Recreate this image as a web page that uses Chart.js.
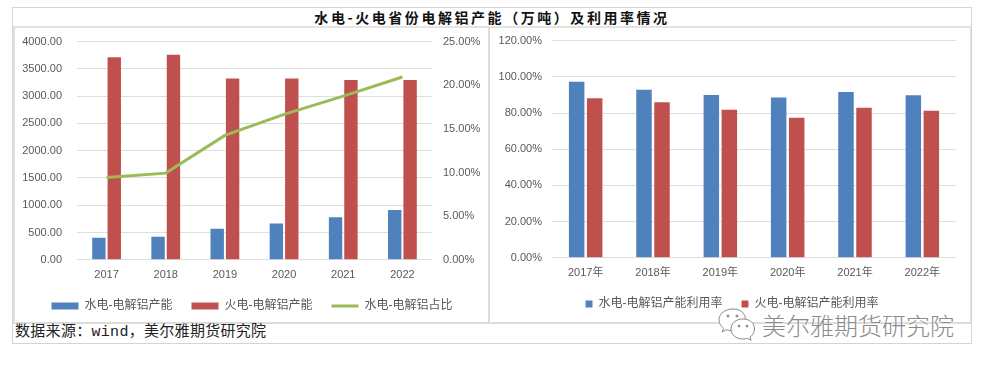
<!DOCTYPE html>
<html>
<head>
<meta charset="utf-8">
<script src="https://cdn.jsdelivr.net/npm/chart.js@4"></script>
<style>
    html, body { margin: 0; padding: 0; background: #fff; }
    body { position: relative; width: 985px; height: 368px; overflow: hidden; font-family: "Noto Sans CJK SC", sans-serif; }
    .line { position: absolute; background: #d4d4d4; }
    .abs { position: absolute; }
    #title { left: 13px; width: 958px; top: 8px; height: 18px; line-height: 18px; text-align: center; font-weight: bold; font-size: 14px; letter-spacing: 2.55px; color: #111; }
    #source { left: 15px; top: 323px; height: 20px; line-height: 20px; font-size: 15px; letter-spacing: 0.3px; color: #222; font-family: "Liberation Mono", "Noto Sans CJK SC", monospace; white-space: nowrap; }
    #mark { left: 762px; top: 310px; height: 30px; line-height: 30px; font-size: 24px; color: #8a8a8a; white-space: nowrap; text-shadow: 0 0 2px #fff; font-weight: 300; }
</style>
</head>
<body>
<!-- frame -->
<div class="line" style="left:12px;top:7px;width:960px;height:1px"></div>
<div class="line" style="left:12px;top:343px;width:960px;height:1px"></div>
<div class="line" style="left:12px;top:7px;width:1px;height:337px"></div>
<div class="line" style="left:971px;top:7px;width:1px;height:337px"></div>
<div class="line" style="left:13px;top:26px;width:958px;height:2px;background:#e4e4e4"></div>
<div class="line" style="left:13px;top:322px;width:958px;height:2px;background:#dcdcdc"></div>
<div class="line" style="left:13px;top:27px;width:2px;height:296px;background:#e0e0e0"></div>
<div class="line" style="left:488px;top:27px;width:2px;height:296px;background:#dcdcdc"></div>
<div class="line" style="left:970px;top:27px;width:1px;height:296px;background:#e0e0e0"></div>

<div id="title" class="abs">水电-火电省份电解铝产能（万吨）及利用率情况</div>
<div id="source" class="abs">数据来源：wind，美尔雅期货研究院</div>

<svg class="abs" style="left:716px;top:307px" width="44" height="34" viewBox="0 0 44 34" fill="#fff" stroke="#8a8a8a" stroke-width="1">
    <path d="M17 2c-8 0-14 4.600-14 11 0 3.500 2 6.300 4.500 8.300l-1.500 3.700 4.500-2.300c2 .7 4 1 6 1 9 0 13-5 13-10.700C29.500 6.600 25 2 17 2z"/>
    <path d="M27 12c-7 0-12 4.300-12 10s5 10 12 10c1.500 0 3-.3 4.300-.7l3.700 2-1-3.200c2.600-1.800 4.500-4.800 4.500-8.100 0-5.700-4.500-10-11.500-10z"/>
    <circle cx="12" cy="9" r="1" fill="#8a8a8a"/><circle cx="21" cy="9" r="1" fill="#8a8a8a"/>
    <circle cx="23" cy="19" r="1" fill="#8a8a8a"/><circle cx="31" cy="19" r="1" fill="#8a8a8a"/>
</svg>
<div id="mark" class="abs">美尔雅期货研究院</div>

<canvas id="capacity-chart" class="abs" style="left:14px;top:20px"></canvas>
<canvas id="usage-chart" class="abs" style="left:490px;top:24px"></canvas>

<script>
const capacityYears = ['2017', '2018', '2019', '2020', '2021', '2022'];
const hydroCapacity = [403, 421, 567, 665, 781, 915];
const thermalCapacity = [3712, 3757, 3322, 3322, 3298, 3298];
const hydroShare = [9.44, 9.93, 14.25, 16.66, 18.76, 20.94];

const usageYears = ['2017年', '2018年', '2019年', '2020年', '2021年', '2022年'];
const hydroUsage = [97.3, 92.9, 89.9, 88.6, 91.6, 89.8];
const thermalUsage = [88.1, 85.9, 81.8, 77.4, 82.9, 81.3];

const BLUE = '#4F81BD';
const RED = '#C0504D';
const GREEN = '#9BBB59';
const TEXT = '#595959';
const GRID = '#dedede';

Chart.defaults.font.family = '"Liberation Sans", "Noto Sans CJK SC", sans-serif';
Chart.defaults.font.size = 11;
Chart.defaults.color = TEXT;
Chart.defaults.animation = false;
Chart.defaults.responsive = false;

function setSize(id, w, h) {
    const canvas = document.getElementById(id);
    canvas.width = w;
    canvas.height = h;
    canvas.style.width = w + 'px';
    canvas.style.height = h + 'px';
    return canvas.getContext('2d');
}

function fixWidth(w) {
    return function (scale) { scale.width = w; };
}

// legend padding is kept small so it sits close to the axis, trailing spaces give the gap between items
function spacedLabels(chart) {
    const items = Chart.defaults.plugins.legend.labels.generateLabels(chart)
        .sort(function (a, b) { return a.datasetIndex - b.datasetIndex; });
    items.forEach(function (item, i) {
        if (i < items.length - 1) item.text += '   ';
    });
    return items;
}

// moves the legend sideways, the reference does not centre it on the plot
function shiftLegend(dx) {
    return {
        id: 'shiftLegend',
        afterLayout: function (chart) {
            chart.legend.left += dx;
            chart.legend.right += dx;
        }
    };
}

const capacityChart = new Chart(setSize('capacity-chart', 474, 302), {
    type: 'bar',
    plugins: [shiftLegend(1)],
    data: {
        labels: capacityYears,
        datasets: [
            {
                label: '水电-电解铝产能',
                data: hydroCapacity,
                backgroundColor: BLUE,
                categoryPercentage: 0.52,
                barPercentage: 0.87,
                pointStyle: 'rect',
                order: 1
            },
            {
                label: '火电-电解铝产能',
                data: thermalCapacity,
                backgroundColor: RED,
                categoryPercentage: 0.52,
                barPercentage: 0.87,
                pointStyle: 'rect',
                order: 1
            },
            {
                type: 'line',
                label: '水电-电解铝占比',
                data: hydroShare,
                yAxisID: 'y1',
                borderColor: GREEN,
                backgroundColor: GREEN,
                borderWidth: 3,
                pointRadius: 0,
                pointStyle: 'line',
                tension: 0,
                order: 0
            }
        ]
    },
    options: {
        layout: { padding: { top: 13, left: 0, right: 0, bottom: 0 } },
        plugins: {
            tooltip: { enabled: false },
            legend: {
                position: 'bottom',
                labels: {
                    usePointStyle: true,
                    pointStyleWidth: 27,
                    boxHeight: 7,
                    padding: 9,
                    font: { size: 12 },
                    generateLabels: spacedLabels
                }
            }
        },
        scales: {
            x: {
                grid: { display: false, drawTicks: false },
                border: { display: false },
                ticks: { padding: 9, maxRotation: 0 }
            },
            y: {
                min: 0,
                max: 4000,
                afterFit: fixWidth(63),
                grid: { color: GRID, drawTicks: false },
                border: { display: false },
                ticks: {
                    stepSize: 500,
                    padding: 15,
                    callback: function (v) { return v.toFixed(2); }
                }
            },
            y1: {
                position: 'right',
                min: 0,
                max: 25,
                afterFit: fixWidth(56),
                grid: { display: false, drawTicks: false },
                border: { display: false },
                ticks: {
                    stepSize: 5,
                    padding: 11,
                    callback: function (v) { return v.toFixed(2) + '%'; }
                }
            }
        }
    }
});

const usageChart = new Chart(setSize('usage-chart', 480, 296), {
    type: 'bar',
    plugins: [shiftLegend(9)],
    data: {
        labels: usageYears,
        datasets: [
            {
                label: '水电-电解铝产能利用率',
                data: hydroUsage,
                backgroundColor: BLUE,
                categoryPercentage: 0.535,
                barPercentage: 0.86
            },
            {
                label: '火电-电解铝产能利用率',
                data: thermalUsage,
                backgroundColor: RED,
                categoryPercentage: 0.535,
                barPercentage: 0.86
            }
        ]
    },
    options: {
        layout: { padding: { top: 12, left: 0, right: 14, bottom: 0 } },
        plugins: {
            tooltip: { enabled: false },
            legend: {
                position: 'bottom',
                labels: {
                    boxWidth: 7,
                    boxHeight: 7,
                    padding: 9,
                    font: { size: 12 },
                    generateLabels: spacedLabels
                }
            }
        },
        scales: {
            x: {
                grid: { display: false, drawTicks: false },
                border: { display: false },
                ticks: { padding: 9, maxRotation: 0 }
            },
            y: {
                min: 0,
                max: 120,
                afterFit: fixWidth(62),
                grid: { color: GRID, drawTicks: false },
                border: { display: false },
                ticks: {
                    stepSize: 20,
                    padding: 10,
                    callback: function (v) { return v.toFixed(2) + '%'; }
                }
            }
        }
    }
});
</script>
</body>
</html>
